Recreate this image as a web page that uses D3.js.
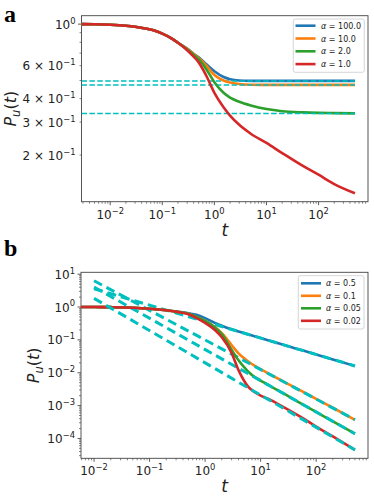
<!DOCTYPE html>
<html><head><meta charset="utf-8">
<script src="https://cdn.jsdelivr.net/npm/d3@7"></script>
<style>body{margin:0;background:#fff}svg{display:block}text{font-family:"DejaVu Sans",sans-serif;fill:#222}text.letter{font-family:"Liberation Serif","DejaVu Serif",serif;font-weight:bold;fill:#000}</style>
</head><body><svg id="c" width="374" height="499"></svg>
<script>
// ---------- Panel a data ----------
const tA = [0.0028,0.005,0.01,0.02,0.03,0.05,0.07,0.1,0.15,0.2,0.3,0.4,0.5,0.7,1,1.5,2,3,5,10,20,50,100,200,500];
const early = [1.0,0.998,0.992,0.98,0.968,0.945,0.925,0.89,0.84,0.795];
const pA100 = early.concat([0.74,0.695,0.665,0.61,0.56,0.522,0.508,0.5,0.498,0.4975,0.4975,0.4975,0.4975,0.4975,0.4975]);
const pA10  = early.concat([0.738,0.692,0.66,0.6,0.535,0.5,0.488,0.479,0.475,0.474,0.4737,0.4737,0.4737,0.4737,0.4737]);
const pA2   = early.concat([0.733,0.685,0.65,0.575,0.49,0.43,0.405,0.385,0.368,0.352,0.343,0.338,0.336,0.335,0.334]);
const pA1   = early.concat([0.725,0.67,0.625,0.53,0.43,0.36,0.325,0.29,0.26,0.232,0.205,0.175,0.157,0.14,0.125]);
const asymA = [0.4975,0.4737,0.3333];
const labelsA = ["100.0","10.0","2.0","1.0"];

// ---------- Panel b data ----------
const tB = [0.0058,0.01,0.02,0.05,0.1,0.2,0.3,0.5,0.7,1,1.5,2,3,4,5,6,8,10,15,20,50,100,200,500];
const earlyB = [1.0,0.998,0.99,0.955,0.89,0.795,0.725];
const pB05  = earlyB.concat([0.65,0.58,0.46,0.33,0.27,0.21,0.18,0.161,0.147,0.127,0.114,0.093,0.081,0.051,0.036,0.0255,0.0161]);
const pB01  = earlyB.concat([0.62,0.5,0.38,0.245,0.16,0.07,0.039,0.028,0.022,0.0158,0.0128,0.0088,0.0068,0.003,0.0016,0.00086,0.00037]);
const pB005 = earlyB.concat([0.62,0.5,0.38,0.24,0.15,0.05,0.024,0.015,0.0107,0.0072,0.0058,0.0039,0.003,0.00124,0.00064,0.00033,0.000139]);
const pB002 = earlyB.concat([0.6,0.46,0.33,0.2,0.12,0.04,0.012,0.0058,0.0037,0.0025,0.002,0.0015,0.00115,0.00048,0.00023,0.000115,0.000045]);
const tDash = [0.01,500];
const dash05 = [3.6,0.0161], dash01 = [6.3,0.00037], dash005 = [4.05,0.000139], dash002 = [1.84,0.000045];
const labelsB = ["0.5","0.1","0.05","0.02"];

const colors = ["#1f77b4","#ff7f0e","#2ca02c","#d62728"];
const cyan = "#00bfbf";

const svg = d3.select("#c");

function sup(textSel, base, exp, fs){
  textSel.append("tspan").text(base);
  textSel.append("tspan").attr("font-size", fs*0.7).attr("dy", -fs*0.42).text(exp);
}

function panel(o){
  const g = svg.append("g");
  const x = d3.scaleLog().domain(o.xd).range([o.l,o.r]);
  const y = d3.scaleLog().domain(o.yd).range([o.b,o.t]);
  const id = "clip"+o.name;
  svg.append("clipPath").attr("id",id).append("rect").attr("x",o.l).attr("y",o.t).attr("width",o.r-o.l).attr("height",o.b-o.t);
  // x ticks
  const [x0,x1] = o.xd.map(Math.log10);
  for(let d=Math.floor(x0); d<=Math.ceil(x1); d++){
    for(let k=1;k<10;k++){
      const v = k*Math.pow(10,d);
      if(v<o.xd[0]||v>o.xd[1]) continue;
      const px = x(v), maj = k===1;
      g.append("line").attr("x1",px).attr("x2",px).attr("y1",o.b).attr("y2",o.b+(maj?3.5:2))
        .attr("stroke","#333").attr("stroke-width",maj?0.8:0.6);
      if(maj){
        const t = g.append("text").attr("x",px).attr("y",o.b+17).attr("text-anchor","middle").attr("font-size",12);
        sup(t,"10",(d<0?"\u2212":"")+Math.abs(d),12);
      }
    }
  }
  // y ticks
  const [y0,y1] = o.yd.map(Math.log10);
  for(let d=Math.floor(y0); d<=Math.ceil(y1); d++){
    for(let k=1;k<10;k++){
      const v = k*Math.pow(10,d);
      if(v<o.yd[0]||v>o.yd[1]) continue;
      const py = y(v), maj = k===1;
      g.append("line").attr("y1",py).attr("y2",py).attr("x1",o.l).attr("x2",o.l-(maj?3.5:2))
        .attr("stroke","#333").attr("stroke-width",maj?0.8:0.6);
      const lab = o.ylab(k,d);
      if(lab){
        const t = g.append("text").attr("x",o.l-6).attr("y",py+4.5).attr("text-anchor","end").attr("font-size",12);
        sup(t,lab[0],lab[1],12);
      }
    }
  }
  // frame
  g.append("rect").attr("x",o.l).attr("y",o.t).attr("width",o.r-o.l).attr("height",o.b-o.t)
    .attr("fill","none").attr("stroke","#444").attr("stroke-width",0.9);
  const line = d3.line().x(d=>x(d[0])).y(d=>y(d[1])).curve(d3.curveMonotoneX);
  const pg = svg.append("g").attr("clip-path","url(#"+id+")");
  o.series.forEach((s,i)=>{
    pg.append("path").attr("d",line(s.t.map((tt,j)=>[tt,s.p[j]]))).attr("fill","none")
      .attr("stroke",colors[i]).attr("stroke-width",2.6).attr("stroke-linejoin","round");
    if(s.dash){
      pg.append("path").attr("d",line(s.dash[0].map((tt,j)=>[tt,s.dash[1][j]]))).attr("fill","none")
        .attr("stroke",cyan).attr("stroke-width",o.dw).attr("stroke-dasharray",o.da);
    }
  });
  // x label
  g.append("text").attr("x",(o.l+o.r)/2).attr("y",o.b+34).attr("text-anchor","middle")
    .attr("font-size",17).attr("font-style","italic").text("t");
  // y label
  const yl = g.append("text").attr("transform",`translate(${o.ylx},${(o.t+o.b)/2}) rotate(-90)`)
    .attr("text-anchor","middle").attr("font-size",16);
  yl.append("tspan").attr("font-style","italic").text("P");
  yl.append("tspan").attr("font-style","italic").attr("font-size",11.5).attr("dy",3.5).text("u");
  yl.append("tspan").attr("dy",-3.5).text("(");
  yl.append("tspan").attr("font-style","italic").text("t");
  yl.append("tspan").text(")");
  // panel letter
  svg.append("text").attr("class","letter").attr("x",o.lx).attr("y",o.ly)
    .attr("font-size",24).text(o.name);
  // legend
  const L = o.leg;
  g.append("rect").attr("x",L.x).attr("y",L.y).attr("width",L.w).attr("height",L.h).attr("rx",2)
    .attr("fill","#fff").attr("fill-opacity",0.85).attr("stroke","#ccc").attr("stroke-width",0.8);
  o.labels.forEach((lb,i)=>{
    const yy = L.y0 + i*L.dy;
    g.append("line").attr("x1",L.hx).attr("x2",L.hx+20).attr("y1",yy).attr("y2",yy)
      .attr("stroke",colors[i]).attr("stroke-width",2.6);
    const t = g.append("text").attr("x",L.tx).attr("y",yy+3).attr("font-size",8);
    t.append("tspan").attr("font-style","italic").text("\u03b1");
    t.append("tspan").text(" = "+lb);
  });
}

panel({
  name:"a", l:81.5, r:368, t:15.7, b:201.7,
  xd:[Math.pow(10,-2.551),Math.pow(10,2.949)], yd:[Math.pow(10,-0.948),Math.pow(10,0.045)],
  ylab:(k,d)=> d===0&&k===1 ? ["10","0"] : (d===-1&&[2,3,4,6].includes(k) ? [k+" \u00d7 10","\u22121"] : null),
  ylx:16, lx:4, ly:22, dw:1.5, da:"5.5,2.4",
  series:[
    {t:tA,p:pA100,dash:[[Math.pow(10,-2.551),500],[asymA[0],asymA[0]]]},
    {t:tA,p:pA10,dash:[[Math.pow(10,-2.551),500],[asymA[1],asymA[1]]]},
    {t:tA,p:pA2,dash:[[Math.pow(10,-2.551),500],[asymA[2],asymA[2]]]},
    {t:tA,p:pA1}
  ],
  labels:labelsA,
  leg:{x:293.3,y:19,w:71,h:53.3,y0:25.7,dy:12.8,hx:295.5,tx:321}
});

panel({
  name:"b", l:81, r:368, t:272.3, b:458.3,
  xd:[Math.pow(10,-2.235),Math.pow(10,2.934)], yd:[Math.pow(10,-4.604),Math.pow(10,1.057)],
  ylab:(k,d)=> k===1 ? ["10",(d<0?"\u2212":"")+Math.abs(d)] : null,
  ylx:39, lx:4, ly:256, dw:3, da:"9,5",
  series:[
    {t:tB,p:pB05,dash:[tDash,dash05]},
    {t:tB,p:pB01,dash:[tDash,dash01]},
    {t:tB,p:pB005,dash:[tDash,dash005]},
    {t:tB,p:pB002,dash:[tDash,dash002]}
  ],
  labels:labelsB,
  leg:{x:298.3,y:275.7,w:65.7,h:53.3,y0:283.3,dy:12.5,hx:301,tx:326}
});
</script></body></html>
